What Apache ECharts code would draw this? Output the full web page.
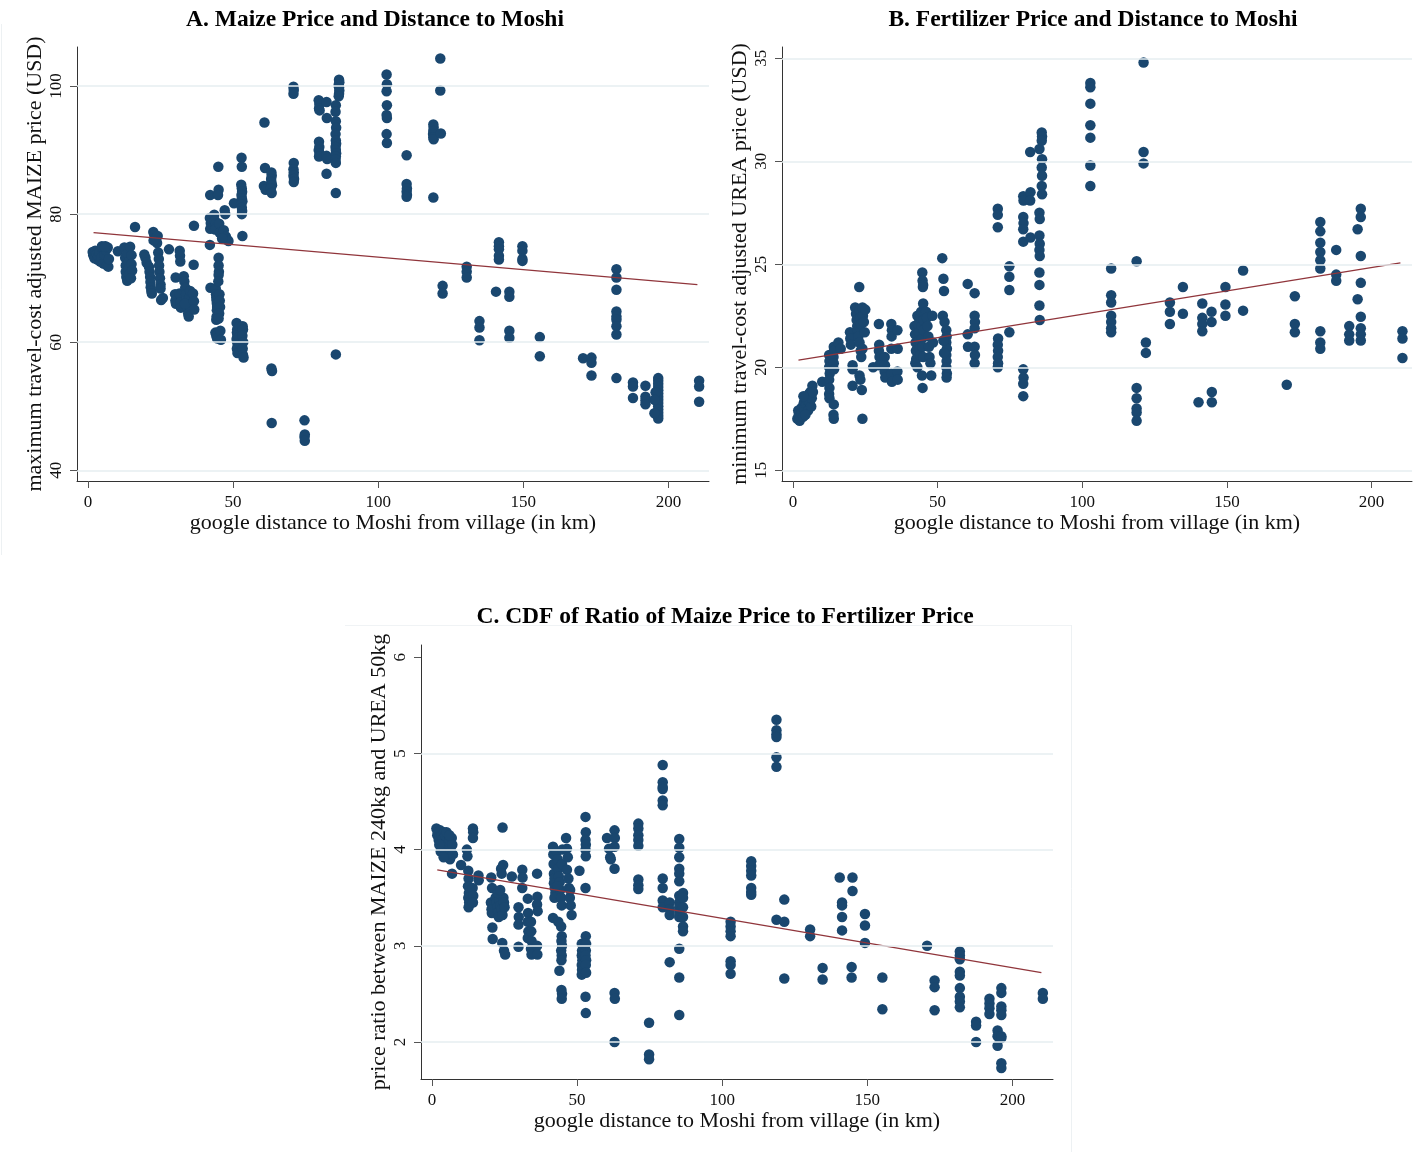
<!DOCTYPE html>
<html>
<head>
<meta charset="utf-8">
<title>Maize / fertilizer price and distance to Moshi</title>
<script src="https://cdn.jsdelivr.net/npm/echarts@6/dist/echarts.min.js"></script>
<style>
	html, body { margin: 0; padding: 0; background: #fff; }
	#chart { width: 1424px; height: 1152px; }
</style>
</head>
<body>
<div id="chart"></div>
<script>
// 横轴刻度 (km)
var distTicks = [0, 50, 100, 150, 200];
// 纵轴刻度
var maizeTicks = [40, 60, 80, 100];
var ureaTicks = [15, 20, 25, 30, 35];
var ratioTicks = [2, 3, 4, 5, 6];
var ratioGrid = [2, 3, 4, 5];

// A. 玉米价格 [距离, 价格]
var maizePoints = [
	[1.6,74.1],[1.8,73.6],[2.2,73.1],[2.5,74.3],[3,73.8],[3.2,72.9],[3.5,73.4],[4,74.0],[4.2,72.6],[4.6,73.2],
	[5,74.6],[5.3,72.3],[5.6,73.7],[6,75.0],[6.2,74.4],[6.5,72.0],[6.8,74.8],[7,71.8],[7.2,73.0],[4.8,75.0],[5.8,74.9],
	[10.3,74.2],
	[12.5,74.8],[12.8,73.2],[13,72.0],[13,71.0],[13.2,70.2],[13.5,69.6],[13.5,73.8],[14,72.6],[14,71.5],[14.2,70.6],
	[14.5,74.9],[15,73.6],[15,72.2],[15.2,71.2],[14.8,70.0],
	[16.2,78.0],
	[19.4,73.7],[19.8,73.2],[20.2,72.4],
	[21,71.8],[21.2,71.0],[21.4,70.2],[21.5,69.4],[21.6,68.6],[21.8,68.0],[22,67.6],
	[22.5,77.2],[22.8,76.8],[23,76.2],[23.4,75.8],[23.8,75.5],[24,76.6],[22.6,75.9],
	[24.2,74.0],[24.4,73.0],[24.5,72.0],[24.6,71.0],[24.8,70.0],[25,69.0],[25,68.4],[25.2,66.6],[25.8,66.9],
	[27.9,74.5],
	[30.2,70.1],[30,67.5],[30.1,66.5],[30.3,66.0],
	[31.6,74.3],[31.7,73.5],[31.8,72.6],[31.5,67.6],[31.8,66.2],[32,65.4],
	[33,70.3],[33.2,69.5],[33.5,68.5],[33.8,67.5],[34,66.5],[34.2,65.5],[34.5,64.5],[34.7,64.0],[35,67.0],[34.8,65.8],[33.4,66.0],[35.2,68.0],
	[36.5,78.2],[36.4,72.1],[36.2,67.6],[36.5,66.4],[36.6,65.1],
	[42.1,83.0],[42,79.4],[42.3,78.6],[42.1,77.7],[42,75.2],[42.2,68.5],
	[43.5,79.9],[43.7,79.0],[44,78.5],[44.2,78.0],[43.8,77.6],[44,68.4],[44.1,67.5],[44.2,67.0],[44.3,66.5],[44.4,66.0],
	[44.5,65.5],[44.4,65.0],[44.3,64.0],[44.2,63.5],[43.9,61.5],[44.2,61.0],[44.5,60.6],
	[44.9,87.4],[45,83.8],[44.8,83.0],[45.2,78.5],[45.4,77.1],[45,73.2],[45,72.0],[45.1,71.0],[45,70.5],[44.9,69.5],
	[45.3,67.5],[45.4,66.5],[45.5,65.5],[45.2,64.5],[45,63.7],[45.6,61.8],[45.8,60.4],
	[47.1,80.6],[47.3,80.0],[46.5,77.0],[46.8,77.5],[47.5,76.5],[48,76.0],[48.4,75.8],[46.2,76.2],
	[50.3,81.7],
	[51.2,63.0],[51.4,62.0],[51.3,61.5],[51.5,61.0],[51.2,60.5],[51.4,60.0],[51.6,59.5],[51.3,59.0],[51.5,58.3],[52.2,62.5],[52,60.8],[52.3,59.8],
	[52.9,88.8],[53,87.4],[52.8,84.6],[53,84.0],[53.1,83.5],[52.9,83.0],[53,82.5],[53.2,82.0],[52.8,81.5],[53,81.0],
	[53.1,80.5],[53,80.0],[53.2,76.6],[53.3,62.5],[53.4,62.0],[53.2,61.0],[53.5,60.0],[53.3,59.0],[53.4,58.0],[53.6,57.6],
	[60.8,94.3],[61,87.2],[60.6,84.4],[61.2,83.8],
	[63.2,86.5],[63.3,86.0],[63.1,85.5],[63.2,85.0],[63.4,84.5],[63,84.0],[63.3,83.3],[63.2,55.9],[63.4,55.5],[63.3,47.4],
	[70.8,99.9],[70.9,99.4],[70.8,98.8],[70.9,88.0],[70.8,87.0],[70.9,86.5],[70.8,86.0],[71,85.5],[70.9,85.0],
	[74.6,47.8],[74.7,45.6],[74.6,45.2],[74.7,44.6],
	[79.5,97.8],[79.7,97.2],[79.6,96.5],[79.8,96.2],[79.6,91.3],[79.7,90.5],[79.5,90.0],[79.8,89.5],[79.6,89.0],
	[82.2,97.5],[82.3,95.0],[82.2,89.1],[82.4,88.6],[82.2,86.3],
	[85.4,97.0],[85.3,96.0],[85.4,94.5],[85.5,93.5],[85.3,92.5],[85.4,91.5],[85.5,91.0],[85.3,90.5],[85.4,90.0],
	[85.5,89.5],[85.4,89.0],[85.3,88.5],[85.4,88.0],[85.4,83.3],[85.4,58.1],
	[86.5,101.0],[86.6,100.6],[86.4,100.2],[86.5,99.8],[86.6,99.3],[86.5,98.8],[86.4,98.4],
	[102.9,101.8],[103,100.3],[102.9,99.2],[103,97.0],[102.9,95.5],[103,95.0],[102.9,92.5],[103,91.1],
	[109.8,89.2],[109.8,84.7],[109.9,84.0],[109.8,83.5],[109.9,83.0],[109.8,82.7],
	[119,94.0],[119.1,93.5],[119,93.0],[118.9,92.5],[119,92.0],[119.1,91.7],[119,82.6],
	[121.4,104.3],[121.4,99.3],[121.6,92.6],
	[122.2,68.8],[122.2,67.6],
	[130.5,71.8],[130.5,71.0],[130.5,70.1],
	[134.9,63.3],[134.9,62.3],[134.9,60.3],
	[140.6,67.9],
	[141.6,75.6],[141.6,75.0],[141.6,74.5],[141.6,73.5],[141.6,72.9],
	[145.2,67.9],[145.2,67.1],[145.2,61.8],[145.2,60.7],
	[149.7,75.0],[149.7,74.3],[149.7,73.0],[149.7,72.7],
	[155.7,60.8],[155.7,57.8],
	[170.6,57.5],
	[173.5,57.6],[173.5,56.8],[173.5,54.8],
	[182.1,71.4],[182.1,70.1],[182.1,68.2],[182.1,64.8],[182.1,64.0],[182.1,63.5],[182.1,62.5],[182.1,61.2],[182.1,54.4],
	[187.8,53.7],[187.8,53.1],[187.8,51.3],
	[192.1,53.2],[192.1,51.5],[192.1,50.9],[192.1,50.3],
	[196.5,54.4],[196.5,54.0],[196.5,53.5],[196.5,53.0],[196.5,52.5],[196.5,52.0],[196.5,51.5],[196.5,51.0],[196.5,50.5],
	[196.5,50.0],[196.5,49.5],[196.5,49.0],[196.5,48.5],[196.5,48.1],[195.2,48.9],[195.6,52.2],[195.2,51.0],
	[210.6,54.0],[210.6,53.1],[210.6,50.7]
];
var maizeFit = [[1.9, 77.1], [210, 69.0]];

// B. 尿素价格 [距离, 价格]
var ureaPoints = [
	[1.5,17.5],[1.8,17.9],[2,17.7],[2.3,17.4],[2.5,17.6],[2.8,18.0],[3,17.8],[3.3,18.1],[3.5,17.6],[3.8,18.3],
	[4,18.0],[4.2,18.5],[4.5,18.2],[4.8,18.6],[5,18.4],[5.2,17.9],[5.5,18.7],[5.8,18.3],[6,18.8],[6.3,18.1],
	[6.5,18.5],[6.7,19.1],[6.9,18.8],[4.3,17.7],[3.6,18.6],
	[10.1,19.3],
	[12.5,20.6],[12.6,20.3],[12.5,20.0],[12.7,19.7],[12.5,19.4],[12.6,19.0],[12.5,18.7],[12.6,18.5],
	[14.1,21.0],[14.2,20.8],[14,20.5],[14.1,20.2],[14.2,19.9],[14.1,18.2],[14,17.7],[14.1,17.5],
	[15.7,21.2],[16.5,20.9],
	[19.7,21.7],[19.8,21.4],[20,21.1],[20.6,20.1],[20.6,19.9],[20.6,19.1],
	[21.5,22.9],[21.8,22.6],[22,22.3],[22.2,22.0],[22.4,21.8],[22.6,21.5],[23,22.8],[23.2,22.4],[23.5,22.1],[22.9,23.9],
	[24,22.9],[24.2,22.5],[24.5,22.2],[24.8,21.7],[23,21.2],[23.4,20.8],[23.6,20.5],[23,19.6],[23.3,19.4],[23.8,18.9],
	[24,17.5],[25,22.8],[24,20.9],
	[27.7,20.0],
	[29.7,22.1],[29.8,21.1],[29.7,20.8],[29.9,20.5],[29.7,20.1],
	[31.7,20.5],[31.8,20.1],[31.7,19.8],[31.9,19.5],
	[34,22.1],[34.2,21.8],[34.1,21.5],[34,20.9],[34,19.7],[34.2,19.3],
	[36.1,21.8],[36.2,20.9],[36.1,19.8],[36.2,19.4],
	[42,22.0],[42.2,21.6],[42.4,21.2],[42.5,20.8],[42.6,20.4],[42.3,20.2],[43,22.5],[43.2,22.1],[43.5,21.7],[43.6,21.3],
	[43.8,20.9],[44,20.6],[44,22.4],[44.3,22.7],[44.5,22.0],[44.6,21.4],[44.8,21.0],[45,20.5],[45.1,22.3],[45.2,21.8],
	[44.7,24.6],[44.8,24.2],[45,24.0],[44.9,23.9],[45,23.1],[44.6,19.6],[44.8,19.0],[43,20.0],
	[46,22.7],[46.3,22.4],[46.5,22.0],[46.8,21.5],[47,21.0],[47.2,20.5],[47.5,20.2],[47.8,19.6],[48.2,22.5],[48.4,21.2],
	[51.6,25.3],[52,24.3],[52.2,23.7],[51.8,22.5],[52.4,22.2],[53,21.8],[53.1,21.5],[53,21.2],[53.2,20.9],[53,20.6],
	[53.1,20.3],[53,20.0],[53.2,19.7],[53.1,19.5],[52,21.3],[52.2,20.7],
	[60.4,24.05],[60.4,21.6],[60.5,21.0],
	[62.8,23.6],[62.8,22.5],[62.9,22.2],[62.8,21.9],[62.8,21.0],[62.9,20.6],[62.8,20.2],
	[70.8,27.7],[70.8,27.4],[70.8,26.8],[70.9,21.4],[70.8,21.1],[70.9,20.8],[70.8,20.5],[70.9,20.2],[70.8,20.0],
	[74.8,24.9],[74.8,24.4],[74.8,23.75],[74.8,21.7],
	[79.6,28.3],[79.7,28.1],[79.6,27.3],[79.7,27.0],[79.6,26.7],[79.6,26.1],[79.6,19.9],[79.7,19.5],[79.6,19.2],[79.6,18.6],
	[82,30.45],[82.1,28.5],[82,28.1],[82.1,26.3],
	[85.2,30.6],[85.2,27.5],[85.3,27.2],[85.2,26.4],[85.3,26.0],[85.2,25.7],[85.3,25.4],[85.2,24.6],[85.2,24.0],[85.2,23.0],[85.3,22.3],
	[86,31.4],[86.1,31.2],[86,31.0],[86.1,30.1],[86,29.7],[86.1,29.3],[86,28.8],[86.1,28.4],
	[102.8,33.8],[102.8,33.6],[102.8,32.8],[102.8,31.75],[102.8,31.15],[102.8,29.8],[102.8,28.8],
	[110,24.8],[110,23.5],[110,23.15],[110,22.5],[110,22.2],[110,21.9],[110,21.7],
	[118.8,25.15],[118.8,19.0],[118.8,18.5],[118.8,18.0],[118.8,17.8],[118.8,17.4],
	[121.2,34.8],[121.2,30.45],[121.2,29.9],
	[122,21.2],[122,20.7],
	[130.3,23.15],[130.3,22.7],[130.3,22.1],
	[134.8,23.9],[134.8,22.6],
	[141.5,23.1],[141.5,22.4],[141.5,22.1],[141.5,21.75],[140.2,18.3],
	[144.7,22.7],[144.7,22.2],[144.8,18.8],[144.8,18.3],
	[149.5,23.9],[149.5,23.05],[149.5,22.5],
	[155.6,24.7],[155.6,22.75],
	[170.7,19.15],
	[173.5,23.45],[173.5,22.1],[173.5,21.7],
	[182.3,27.05],[182.3,26.6],[182.3,26.05],[182.3,25.6],[182.3,25.2],[182.3,24.8],[182.3,21.75],[182.3,21.2],[182.3,20.9],
	[187.8,25.7],[187.8,24.5],[187.8,24.2],
	[192.3,22.0],[192.3,21.6],[192.3,21.3],
	[195.2,26.7],[195.2,23.3],
	[196.3,27.7],[196.3,27.3],[196.3,25.4],[196.3,24.1],[196.3,22.45],[196.3,21.9],[196.3,21.6],[196.3,21.3],
	[210.7,21.75],[210.7,21.4],[210.7,20.45]
];
var ureaFit = [[1.9, 20.35], [210, 25.07]];

// C. 玉米/尿素价格比 [距离, 比值]
var ratioPoints = [
	[1.5,4.22],[1.8,4.15],[2,4.18],[2.3,4.1],[2.5,4.12],[2.8,4.2],[3,4.05],[3.2,4.15],[3.5,4.1],[3.8,4.0],
	[4,4.05],[4.2,4.18],[4.5,4.15],[4.7,3.95],[5,4.0],[5.2,4.1],[5.5,3.95],[5.8,4.08],[6,4.1],[6.2,3.9],
	[6.5,3.98],[6.8,4.12],[7,4.05],[7.2,3.95],[3,3.98],[4,3.92],[5,4.18],[2.5,4.05],[6,4.15],[6.9,3.75],
	[10,3.84],
	[12,4.0],[12.2,3.93],[12.5,3.78],[12.6,3.7],[12.4,3.62],[12.7,3.55],[12.5,3.5],[12.8,3.45],[12.6,3.4],
	[14.1,4.22],[14.2,4.18],[14.1,4.12],[14,3.6],[14.2,3.52],[14.1,3.45],
	[16,3.73],[16.1,3.68],
	[20.3,3.45],[20.5,3.38],[20.6,3.34],[20.8,3.19],[20.9,3.07],[20.4,3.71],[20.7,3.6],
	[21.9,3.5],[22.2,3.45],[22.5,3.4],[22.8,3.35],[23,3.3],[23.3,3.48],[23.6,3.42],[24,3.38],[24.3,3.32],[24.6,3.5],
	[24.8,3.45],[25,3.4],[22.6,3.55],[23.5,3.58],[24.3,4.23],[24.5,3.84],[23.8,3.8],[24,3.75],[24.2,3.03],[24.8,2.95],[25.2,2.91],
	[27.5,3.72],
	[29.8,3.4],[29.9,3.3],[29.8,3.22],[29.8,2.99],
	[31.1,3.79],[31.2,3.71],[31.1,3.6],
	[33,3.49],[33.1,3.34],[33,3.25],[33.2,3.15],[33,3.08],
	[34.1,3.25],[34.2,3.15],[34.3,3.05],[34.1,2.97],[34.3,2.91],
	[36.2,3.75],[36.3,3.51],[36.2,3.43],[36.4,3.36],[36.2,3.0],[36.3,2.91],
	[41.7,4.03],[41.8,3.95],[41.9,3.85],[42,3.75],[42.2,3.7],[42,3.65],[42.3,3.6],[42.5,3.55],[42.2,3.5],[43,3.98],
	[43.3,3.9],[43.5,3.8],[43.7,3.72],[44,3.66],[44.2,3.58],[44.5,3.5],[44.7,3.42],[43.2,3.62],[44.8,3.85],[44.9,4.0],
	[41.7,3.29],[44.5,3.2],[44.7,3.1],[44.6,3.05],[44.8,3.0],[44.5,2.95],[44.7,2.9],[44.6,2.85],[43.9,2.74],[44.6,2.54],
	[44.8,2.5],[44.7,2.45],[43.5,3.25],
	[46.2,4.12],[46.5,4.01],[46.8,3.92],[46.5,3.79],[47,3.7],[47.2,3.6],[47.5,3.5],[47.8,3.42],[48.1,3.32],[47.6,3.58],
	[50.8,3.78],
	[51.6,3.02],[51.7,2.95],[51.6,2.9],[51.8,2.85],[51.6,2.8],[51.7,2.75],[51.6,2.7],
	[52.9,4.34],[53,4.18],[52.9,4.1],[53,4.05],[52.9,4.0],[53,3.93],[52.9,3.6],[53,3.1],[53.1,3.02],[53,2.95],
	[52.9,2.9],[53.1,2.85],[53,2.8],[53.1,2.72],[52.9,2.47],[53,2.3],
	[60.3,4.12],[61,4.01],[61.4,3.92],[61.6,3.9],
	[62.9,4.2],[63,4.12],[62.9,4.03],[62.9,3.8],[62.9,2.51],[63,2.45],[62.9,2.0],
	[71.1,4.27],[71.1,4.22],[71.1,4.15],[71.1,4.1],[71.1,4.04],[71.1,3.69],[71.1,3.63],[71.1,3.59],
	[74.8,2.2],[74.8,1.87],[74.8,1.82],
	[79.5,4.88],[79.5,4.7],[79.5,4.65],[79.5,4.63],[79.5,4.51],[79.5,4.46],[79.5,3.7],[79.5,3.6],[79.5,3.47],[79.5,3.4],
	[81.9,3.45],[81.9,3.38],[81.9,3.32],[81.9,2.83],
	[85.2,4.11],[85.2,4.02],[85.2,3.92],[85.2,3.8],[85.2,3.75],[85.2,3.67],[85.2,3.52],[85.2,3.45],[85.2,3.4],[85.2,3.35],
	[85.2,3.3],[85.2,2.97],[85.2,2.67],[85.2,2.28],
	[86.5,3.55],[86.5,3.5],[86.5,3.4],[86.5,3.3],[86.5,3.2],[86.5,3.15],
	[102.9,3.25],[102.9,3.2],[102.9,3.15],[102.9,3.1],[102.9,2.84],[102.9,2.8],[102.9,2.71],
	[110,3.88],[110,3.83],[110,3.78],[110,3.73],[110,3.6],[110,3.56],[110,3.53],
	[118.7,5.35],[118.7,5.24],[118.7,5.2],[118.7,5.17],[118.7,4.96],[118.7,4.86],[118.7,3.27],
	[121.4,3.48],[121.4,3.25],[121.4,2.66],
	[130.3,3.17],[130.3,3.1],
	[134.6,2.77],[134.6,2.65],
	[140.5,3.71],
	[141.3,3.45],[141.3,3.42],[141.3,3.3],[141.3,3.16],
	[144.6,2.78],[144.6,2.67],
	[144.9,3.71],[144.9,3.57],
	[149.2,3.33],[149.2,3.21],[149.2,3.03],
	[155.2,2.67],[155.2,2.34],
	[170.6,3.0],
	[173.2,2.64],[173.2,2.57],[173.2,2.33],
	[181.9,2.94],[181.9,2.9],[181.9,2.86],[181.9,2.73],[181.9,2.69],[181.9,2.56],[181.9,2.47],[181.9,2.42],[181.9,2.36],
	[187.5,2.21],[187.5,2.17],[187.5,2.0],
	[192.1,2.45],[192.1,2.4],[192.1,2.35],[192.1,2.29],
	[194.9,2.12],[194.9,2.06],[194.9,1.96],
	[196.2,2.56],[196.2,2.51],[196.2,2.37],[196.2,2.33],[196.2,2.28],[196.2,2.06],[196.2,2.04],[196.2,1.78],[196.2,1.73],
	[210.5,2.51],[210.5,2.45]
];
var ratioFit = [[1.8, 3.79], [210, 2.72]];

var serif = '"Liberation Serif", "Times New Roman", serif';
var dotColor = '#1a476f';
var fitColor = '#90353b';
var gridColor = '#e6eef0';
var xName = 'google distance to Moshi from village (in km)';

var chart = echarts.init(document.getElementById('chart'));

// 横轴
function distAxis(idx) {
	return {
		type: 'value',
		gridIndex: idx,
		min: -3.8,
		max: 214,
		name: xName,
		nameLocation: 'middle',
		nameGap: 31,
		nameTextStyle: { fontFamily: serif, fontSize: 22, color: '#111' },
		axisLine: { onZero: false, lineStyle: { color: '#333', width: 1 } },
		axisTick: { length: 7, customValues: distTicks, lineStyle: { color: '#555' } },
		axisLabel: { customValues: distTicks, margin: 13, fontFamily: serif, fontSize: 17, color: '#111' },
		splitLine: { show: false }
	};
}

// 纵轴 (刻度文字竖排)
function valueAxis(idx, min, max, ticks, name) {
	return {
		type: 'value',
		gridIndex: idx,
		min: min,
		max: max,
		name: name,
		nameLocation: 'middle',
		nameGap: 31,
		nameRotate: 90,
		nameTextStyle: { fontFamily: serif, fontSize: 22, color: '#111' },
		axisLine: { onZero: false, lineStyle: { color: '#333', width: 1 } },
		axisTick: { length: 7, customValues: ticks, lineStyle: { color: '#555' } },
		axisLabel: { customValues: ticks, rotate: 90, margin: 12, fontFamily: serif, fontSize: 17, color: '#111' },
		splitLine: { show: false }
	};
}

// 网格线
function gridLines(idx, values) {
	return {
		type: 'line',
		xAxisIndex: idx,
		yAxisIndex: idx,
		data: [],
		z: 0,
		silent: true,
		markLine: {
			silent: true,
			symbol: 'none',
			label: { show: false },
			lineStyle: { color: gridColor, width: 1.5, type: 'solid' },
			data: values.map(function (v) { return { yAxis: v }; })
		}
	};
}

function dots(idx, pts) {
	return {
		type: 'scatter',
		xAxisIndex: idx,
		yAxisIndex: idx,
		symbolSize: 10.5,
		itemStyle: { color: dotColor, opacity: 1 },
		z: 2,
		data: pts
	};
}

function fitLine(idx, pts) {
	return {
		type: 'line',
		xAxisIndex: idx,
		yAxisIndex: idx,
		symbol: 'none',
		lineStyle: { color: fitColor, width: 1.3 },
		z: 3,
		data: pts
	};
}

var titleStyle = { fontFamily: serif, fontSize: 23.5, fontWeight: 'bold', color: '#000' };

var option = {
	backgroundColor: '#fff',
	animation: false,
	title: [
		{ text: 'A. Maize Price and Distance to Moshi', left: 370, top: 3, textAlign: 'center', textStyle: titleStyle },
		{ text: 'B. Fertilizer Price and Distance to Moshi', left: 1088, top: 3, textAlign: 'center', textStyle: titleStyle },
		{ text: 'C. CDF of Ratio of Maize Price to Fertilizer Price', left: 720, top: 600, textAlign: 'center', textStyle: titleStyle }
	],
	graphic: [
		{ type: 'line', shape: { x1: 1.5, y1: 24, x2: 1.5, y2: 555 }, style: { stroke: '#edf1f3', lineWidth: 1 } },
		{ type: 'line', shape: { x1: 345, y1: 625.5, x2: 1071, y2: 625.5 }, style: { stroke: '#f0f3f5', lineWidth: 1 } },
		{ type: 'line', shape: { x1: 1071.5, y1: 625, x2: 1071.5, y2: 1152 }, style: { stroke: '#edf1f3', lineWidth: 1 } }
	],
	grid: [
		{ left: 77, top: 47, width: 632, height: 434, outerBoundsMode: 'none' },
		{ left: 782, top: 47, width: 630, height: 434, outerBoundsMode: 'none' },
		{ left: 421, top: 645, width: 632, height: 434, outerBoundsMode: 'none' }
	],
	xAxis: [distAxis(0), distAxis(1), distAxis(2)],
	yAxis: [
		valueAxis(0, 38.33, 106.1, maizeTicks, 'maximum travel-cost adjusted MAIZE price (USD)'),
		valueAxis(1, 14.48, 35.55, ureaTicks, 'minimum travel-cost adjusted UREA price (USD)'),
		valueAxis(2, 1.615, 6.127, ratioTicks, 'price ratio between MAIZE 240kg and UREA 50kg')
	],
	series: [
		gridLines(0, maizeTicks),
		gridLines(1, ureaTicks),
		gridLines(2, ratioGrid),
		dots(0, maizePoints),
		dots(1, ureaPoints),
		dots(2, ratioPoints),
		fitLine(0, maizeFit),
		fitLine(1, ureaFit),
		fitLine(2, ratioFit)
	]
};

chart.setOption(option);
</script>
</body>
</html>
